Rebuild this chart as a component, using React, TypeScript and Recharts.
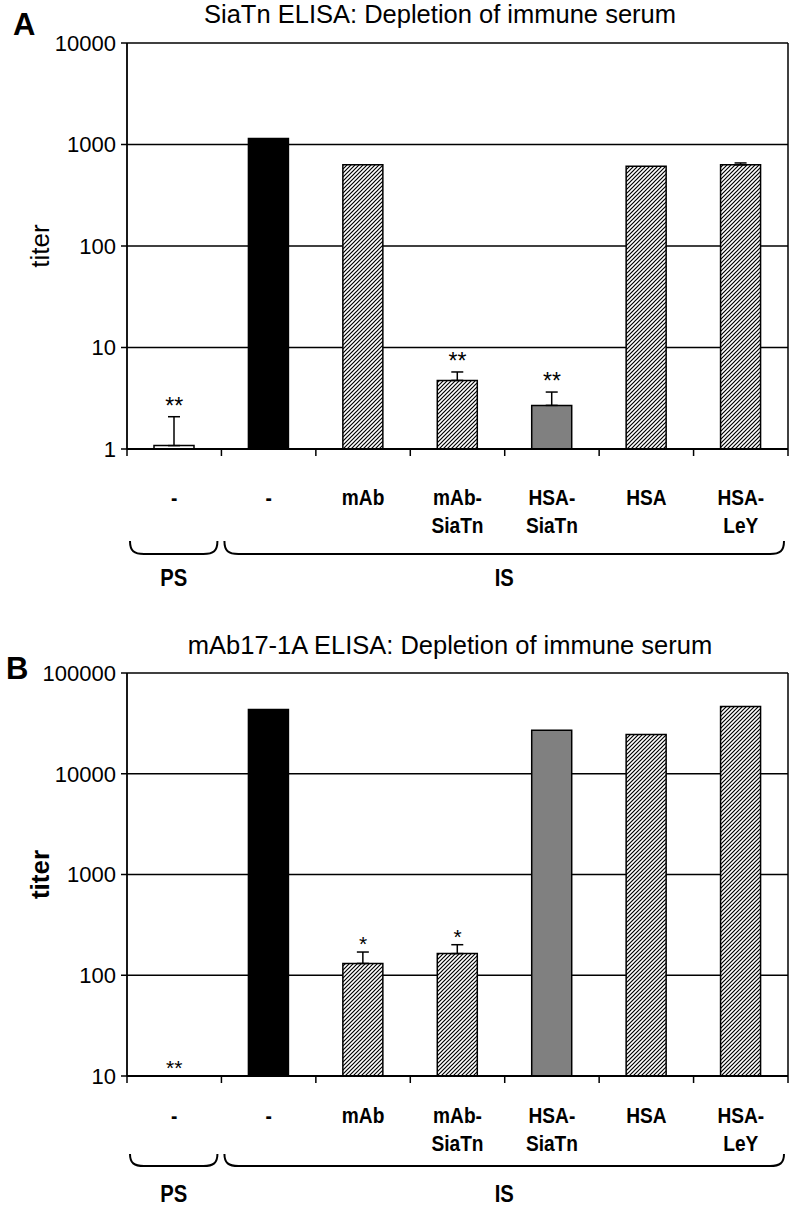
import React from 'react';
import { ComposedChart, Bar, XAxis, YAxis, CartesianGrid, ErrorBar, Cell, Line } from 'recharts';

// ---------- data ----------
const labelLine1 = ['-', '-', 'mAb', 'mAb-', 'HSA-', 'HSA', 'HSA-'];
const labelLine2 = ['', '', '', 'SiaTn', 'SiaTn', '', 'LeY'];
const groupNames = ['PS', 'IS'];
const groupStart = [0, 1];
const groupEnd = [0, 6];

// Panel A: SiaTn ELISA
const titerA = [1.08, 1146, 630, 4.74, 2.69, 611, 630];
const errTopA = [2.08, null, null, 5.74, 3.64, null, 658];
const starsA = ['**', '', '', '**', '**', '', ''];
const ticksA = [1, 10, 100, 1000, 10000];

// Panel B: mAb17-1A ELISA
const titerB = [null, 43300, 131, 164, 27000, 24500, 46400];
const errTopB = [null, null, 170, 201, null, null, null];
const starsB = ['**', '', '*', '*', '', '', ''];
const ticksB = [10, 100, 1000, 10000, 100000];

// ---------- styles ----------
const fillKind = ['white', 'black', 'hatch', 'hatch', 'gray', 'hatch', 'hatch'];

const W = 789;
const H = 605;
const LEFT = 127;
const PLOT_W = W - LEFT - 1;
const BW = PLOT_W / labelLine1.length;
const FONT = "'Liberation Sans', Arial, Helvetica, sans-serif";

type Num = number | null;

function buildRows(titer: Num[], errTop: Num[], stars: string[], minVal: number) {
  return labelLine1.map((_, i) => {
    const v = titer[i];
    const e = errTop[i];
    const err = v != null && e != null ? [0, e - v] : undefined;
    const anchor = stars[i] ? (e != null ? e : v != null ? v : minVal) : null;
    return { key: 'c' + i, titer: v, err, starAt: anchor, star: stars[i] };
  });
}

function fillFor(kind: string, hatchId: string) {
  if (kind === 'white') return '#ffffff';
  if (kind === 'black') return '#000000';
  if (kind === 'gray') return '#808080';
  return `url(#${hatchId})`;
}

function Brace({ x1, x2, yt, yb }: { x1: number; x2: number; yt: number; yb: number }) {
  const d = `M${x1},${yt} C${x1},${yb - 3} ${x1 + 4},${yb} ${x1 + 14},${yb} L${x2 - 14},${yb} C${x2 - 4},${yb} ${x2},${yb - 3} ${x2},${yt}`;
  return <path d={d} fill="none" stroke="#000" strokeWidth={2} />;
}

type Lay = { r1: number; r2: number; bt: number; bb: number; g: number };

function makeXTick(lay: Lay) {
  return (props: any) => {
    const { x, y, index } = props;
    const left = x - BW / 2;
    const right = x + BW / 2;
    const gi = groupStart.indexOf(index);
    let group = null;
    if (gi >= 0) {
      const gx1 = left + 3;
      const gx2 = x + (groupEnd[gi] - groupStart[gi]) * BW + BW / 2 - 4;
      group = (
        <g>
          <Brace x1={gx1} x2={gx2} yt={y + lay.bt} yb={y + lay.bb} />
          <text
            transform={`translate(${(gx1 + gx2) / 2},${y + lay.g}) scale(0.88,1)`}
            textAnchor="middle"
            fontSize={23}
            fontWeight="bold"
            fill="#000"
          >
            {groupNames[gi]}
          </text>
        </g>
      );
    }
    return (
      <g>
        <line x1={left} x2={left} y1={y} y2={y + 7} stroke="#000" strokeWidth={1.5} />
        {index === labelLine1.length - 1 ? (
          <line x1={right} x2={right} y1={y} y2={y + 7} stroke="#000" strokeWidth={1.5} />
        ) : null}
        <text
          transform={`translate(${x},${y + lay.r1}) scale(0.85,1)`}
          textAnchor="middle"
          fontSize={22.5}
          fontWeight="bold"
          fill="#000"
        >
          {labelLine1[index]}
        </text>
        {labelLine2[index] ? (
          <text
            transform={`translate(${x},${y + lay.r2}) scale(0.85,1)`}
            textAnchor="middle"
            fontSize={22.5}
            fontWeight="bold"
            fill="#000"
          >
            {labelLine2[index]}
          </text>
        ) : null}
        {group}
      </g>
    );
  };
}

function YTick(props: any) {
  const { x, y, payload } = props;
  return (
    <text x={x - 5} y={y} textAnchor="end" dy="0.36em" fontSize={22} fill="#000">
      {payload.value}
    </text>
  );
}

function makeStarDot(fontSize: number, lift: number) {
  return (props: any) => {
    const { cx, cy, payload, index } = props;
    if (cx == null || cy == null || !payload || !payload.star) return <g key={'s' + index} />;
    return (
      <text key={'s' + index} x={cx} y={cy - lift} textAnchor="middle" fontSize={fontSize} fill="#000">
        {payload.star}
      </text>
    );
  };
}

function Panel(props: {
  rows: any[];
  ticks: number[];
  top: number;
  xHeight: number;
  hatchId: string;
  boldLabel: boolean;
  starSize: number;
  starLift: number;
  lay: Lay;
}) {
  const { rows, ticks, top, xHeight, hatchId, boldLabel, starSize, starLift, lay } = props;
  const domain = [ticks[0], ticks[ticks.length - 1]];
  return (
    <ComposedChart
      width={W}
      height={H}
      data={rows}
      margin={{ top, right: 0, bottom: 0, left: 0 }}
      style={{ fontFamily: FONT }}
    >
      <defs>
        <pattern id={hatchId} patternUnits="userSpaceOnUse" width={4} height={4}>
          <rect width={4} height={4} fill="#fff" />
          <path d="M-1,1 l2,-2 M0,4 l4,-4 M3,5 l2,-2" stroke="#000" strokeWidth={1.2} />
        </pattern>
      </defs>
      <CartesianGrid vertical={false} stroke="#000" strokeWidth={1.4} yAxisId="L" />
      <XAxis
        dataKey="key"
        interval={0}
        tickLine={false}
        tickSize={0}
        tickMargin={0}
        height={xHeight}
        axisLine={{ stroke: '#000', strokeWidth: 1.8 }}
        tick={makeXTick(lay)}
      />
      <YAxis
        yAxisId="L"
        scale="log"
        domain={domain}
        ticks={ticks}
        interval={0}
        allowDataOverflow
        width={LEFT}
        tickSize={6}
        tickMargin={0}
        tickLine={{ stroke: '#000', strokeWidth: 1.5 }}
        axisLine={{ stroke: '#000', strokeWidth: 1.8 }}
        tick={<YTick />}
        label={{
          content: (p: any) => {
            const vb = p.viewBox || {};
            const cy = vb.y + vb.height / 2;
            return (
              <text
                transform={`translate(40,${cy}) rotate(-90)`}
                textAnchor="middle"
                dy="0.36em"
                fontSize={26}
                fontWeight={boldLabel ? 'bold' : 'normal'}
                fill="#000"
              >
                titer
              </text>
            );
          },
        }}
      />
      <YAxis
        yAxisId="R"
        orientation="right"
        scale="log"
        domain={domain}
        allowDataOverflow
        width={1}
        tick={false}
        tickLine={false}
        axisLine={{ stroke: '#000', strokeWidth: 1.5 }}
      />
      <Bar yAxisId="L" dataKey="titer" barSize={40} stroke="#000" strokeWidth={1.5} isAnimationActive={false}>
        {rows.map((r, i) => (
          <Cell key={r.key} fill={fillFor(fillKind[i], hatchId)} />
        ))}
        <ErrorBar dataKey="err" direction="y" width={6} stroke="#000" strokeWidth={1.5} isAnimationActive={false} />
      </Bar>
      <Line
        yAxisId="L"
        dataKey="starAt"
        stroke="none"
        dot={makeStarDot(starSize, starLift)}
        activeDot={false}
        isAnimationActive={false}
        legendType="none"
      />
    </ComposedChart>
  );
}

const rowsA = buildRows(titerA, errTopA, starsA, ticksA[0]);
const rowsB = buildRows(titerB, errTopB, starsB, ticksB[0]);

const layA: Lay = { r1: 56, r2: 84, bt: 92, bb: 105, g: 137 };
const layB: Lay = { r1: 47, r2: 75, bt: 78, bb: 90, g: 126 };

export default function App() {
  const titleStyle: React.CSSProperties = {
    position: 'absolute',
    left: 0,
    width: 880,
    textAlign: 'center',
    fontFamily: FONT,
    fontSize: 25.5,
    lineHeight: '30px',
    color: '#000',
    whiteSpace: 'nowrap',
  };
  const letterStyle: React.CSSProperties = {
    position: 'absolute',
    fontFamily: FONT,
    fontSize: 31,
    fontWeight: 'bold',
    lineHeight: '34px',
    color: '#000',
  };
  return (
    <div style={{ position: 'absolute', left: 0, top: 0, width: W, height: 2 * H, background: '#fff' }}>
      <div style={{ position: 'absolute', left: 0, top: 0 }}>
        <Panel rows={rowsA} ticks={ticksA} top={43} xHeight={156} hatchId="hatchA" boldLabel={false} starSize={23} starLift={3} lay={layA} />
      </div>
      <div style={{ position: 'absolute', left: 0, top: H }}>
        <Panel rows={rowsB} ticks={ticksB} top={68} xHeight={134} hatchId="hatchB" boldLabel={true} starSize={21} starLift={1} lay={layB} />
      </div>
      <div style={{ ...titleStyle, top: -1 }}>SiaTn ELISA: Depletion of immune serum</div>
      <div style={{ ...titleStyle, top: 630, width: 900 }}>mAb17-1A ELISA: Depletion of immune serum</div>
      <div style={{ ...letterStyle, left: 13, top: 8 }}>A</div>
      <div style={{ ...letterStyle, left: 6, top: 652 }}>B</div>
    </div>
  );
}
